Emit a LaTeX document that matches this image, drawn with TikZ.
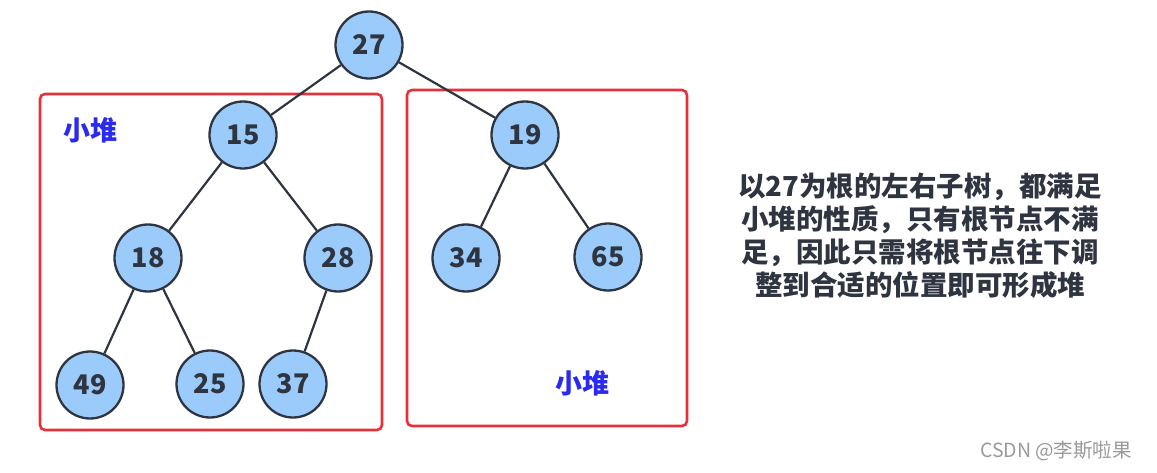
\documentclass[tikz,border=0pt]{standalone}
\usepackage{fontspec}
\setmainfont{Noto Sans CJK SC}
\usetikzlibrary{positioning}
\definecolor{nodeblue}{HTML}{9BCBFA}
\definecolor{heapred}{HTML}{E8303A}
\definecolor{heapblue}{HTML}{2A2AF0}
\definecolor{inkgray}{HTML}{2E3440}

\begin{document}
\begin{tikzpicture}[x=1pt,y=1pt,font=\fontsize{22}{26}\selectfont,
  heapnode/.style={circle,draw=inkgray,line width=2.3pt,fill=nodeblue,minimum size=67pt,inner sep=0pt,text=inkgray,font=\fontsize{27}{30}\selectfont\bfseries},
  heapbox/.style={draw=heapred,line width=2.6pt,rounded corners=5pt},
  heaplabel/.style={text=heapblue,font=\fontsize{27}{30}\selectfont\bfseries},
  edge/.style={draw=inkgray,line width=2.2pt}]
\useasboundingbox (0,0) rectangle (1157,472);
% the two sub-heaps
\draw[heapbox] (40,42) rectangle (382,378);
\draw[heapbox] (407,46) rectangle (687,382);
\node[heaplabel] (leftlbl) at (90,342) {小堆};
\node[heaplabel] (rightlbl) at (582,89) {小堆};
% tree nodes
\node[heapnode] (n27) at (369,427) {27};
\node[heapnode] (n15) at (243,337) {15};
\node[heapnode] (n19) at (525,337) {19};
\node[heapnode] (n18) at (148,214) {18};
\node[heapnode] (n28) at (338,214) {28};
\node[heapnode] (n34) at (466,214) {34};
\node[heapnode] (n65) at (608,215) {65};
\node[heapnode] (n49) at (90,87) {49};
\node[heapnode] (n25) at (210,88) {25};
\node[heapnode] (n37) at (293,88) {37};
% edges
\draw[edge] (n27) -- (n15);
\draw[edge] (n27) -- (n19);
\draw[edge] (n15) -- (n18);
\draw[edge] (n15) -- (n28);
\draw[edge] (n19) -- (n34);
\draw[edge] (n19) -- (n65);
\draw[edge] (n18) -- (n49);
\draw[edge] (n18) -- (n25);
\draw[edge] (n28) -- (n37);
% explanation
\node[align=center,text=inkgray,font=\fontsize{27.5}{33}\selectfont\bfseries] (note) at (920,236)
  {以27为根的左右子树，都满足\\小堆的性质，只有根节点不满\\足，因此只需将根节点往下调\\整到合适的位置即可形成堆};
\node[text=black!40,font=\fontsize{19.5}{22}\selectfont] (mark) at (1056,21) {CSDN @李斯啦果};
\end{tikzpicture}
\end{document}
